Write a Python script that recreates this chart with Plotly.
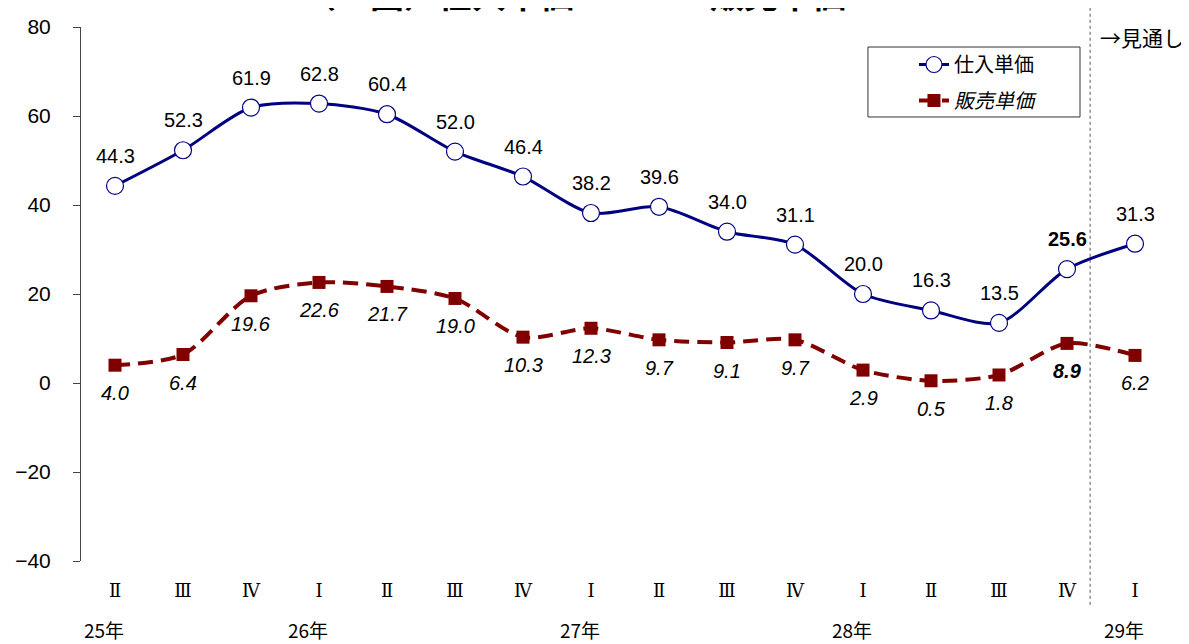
import plotly.graph_objects as go

# data
quarters = ["Ⅱ", "Ⅲ", "Ⅳ", "Ⅰ", "Ⅱ", "Ⅲ", "Ⅳ", "Ⅰ", "Ⅱ", "Ⅲ", "Ⅳ", "Ⅰ", "Ⅱ", "Ⅲ", "Ⅳ", "Ⅰ"]
years = ["25年", "", "", "26年", "", "", "", "27年", "", "", "", "28年", "", "", "", "29年"]
shiire = [44.3, 52.3, 61.9, 62.8, 60.4, 52.0, 46.4, 38.2, 39.6, 34.0, 31.1, 20.0, 16.3, 13.5, 25.6, 31.3]
hanbai = [4.0, 6.4, 19.6, 22.6, 21.7, 19.0, 10.3, 12.3, 9.7, 9.1, 9.7, 2.9, 0.5, 1.8, 8.9, 6.2]
latest = 14  # last actual quarter, shown in bold

NAVY = "#000080"
MAROON = "#800000"
JP = "Noto Sans CJK JP"
NUM = "Liberation Sans"

x = list(range(len(quarters)))

fig = go.Figure()
fig.add_trace(go.Scatter(
    x=x, y=shiire, name="仕入単価", mode="lines+markers", legendgroup="a",
    line=dict(color=NAVY, width=3, shape="spline", smoothing=0.8),
    marker=dict(symbol="circle", size=17, color="white", line=dict(color=NAVY, width=1.2)),
))
fig.add_trace(go.Scatter(
    x=x, y=hanbai, name="<i>販売単価</i>", mode="lines+markers", legendgroup="b",
    line=dict(color=MAROON, width=4, dash="15px,8px", shape="spline", smoothing=0.8),
    marker=dict(symbol="square", size=13, color=MAROON),
))

# value labels
for i, v in enumerate(shiire):
    t = f"{v:.1f}"
    fig.add_annotation(x=i, y=v, text=f"<b>{t}</b>" if i == latest else t, showarrow=False,
                       yshift=30, font=dict(family=NUM, size=20, color="black"))
for i, v in enumerate(hanbai):
    t = f"<i>{v:.1f}</i>"
    fig.add_annotation(x=i, y=v, text=f"<b>{t}</b>" if i == latest else t, showarrow=False,
                       yshift=-28, font=dict(family=NUM, size=20, color="black"))

# year labels under the quarters
for i, yr in enumerate(years):
    if yr:
        fig.add_annotation(x=i, y=-0.128, yref="paper", yanchor="middle", text=yr, showarrow=False,
                           xshift=-11, font=dict(family=JP, size=19, color="black"))

# forecast divider
fig.add_shape(type="line", xref="x", yref="paper", x0=14.34, x1=14.34, y0=-0.082, y1=1.06,
              line=dict(color="#555555", width=1, dash="dot"))
fig.add_annotation(x=0.935, y=0.981, xref="paper", yref="paper", text="→見通し", showarrow=False,
                   xanchor="left", yanchor="middle", font=dict(family=JP, size=21, color="black"))

# legend frame (drawn separately so it can be wider than the legend itself)
fig.add_shape(type="rect", xref="paper", yref="paper", x0=0.7233, x1=0.9182, y0=0.8315, y1=0.9625,
              line=dict(color="#333333", width=1), fillcolor="white", layer="below")

# title (cut off at the top in the original)
fig.add_annotation(x=0.5, y=1.013, xref="paper", yref="paper", xanchor="center", yanchor="bottom",
                   text="<b>（７図）仕入単価ＤＳＩ・販売単価ＤＳＩ</b>", showarrow=False,
                   font=dict(family=JP, size=34, color="black"))

fig.update_xaxes(
    range=[-0.5, 15.5], tickmode="array", tickvals=x, ticktext=quarters,
    showline=False, showgrid=False, zeroline=False, ticks="", automargin=False,
    tickfont=dict(family="DejaVu Serif", size=18, color="black"), ticklabelstandoff=17,
)
fig.update_yaxes(
    range=[-40, 80], dtick=20, showline=True, linecolor="#444444", linewidth=1,
    ticks="outside", ticklen=7, tickcolor="#444444", showgrid=False, zeroline=False,
    automargin=False,
    tickfont=dict(family=NUM, size=21, color="black"), ticklabelstandoff=18,
)

# page body has an 8px margin, so the figure is drawn 8px in and shrunk to fit
fig.update_layout(
    width=1181, height=636,
    margin=dict(l=73, r=20, t=19, b=83),
    paper_bgcolor="white", plot_bgcolor="white",
    showlegend=True,
    legend=dict(x=0.7656, y=0.9663, xanchor="left", yanchor="top",
                bgcolor="rgba(0,0,0,0)", borderwidth=0,
                font=dict(family=JP, size=20, color="black"), tracegroupgap=7),
)

fig.write_html("out.html")
